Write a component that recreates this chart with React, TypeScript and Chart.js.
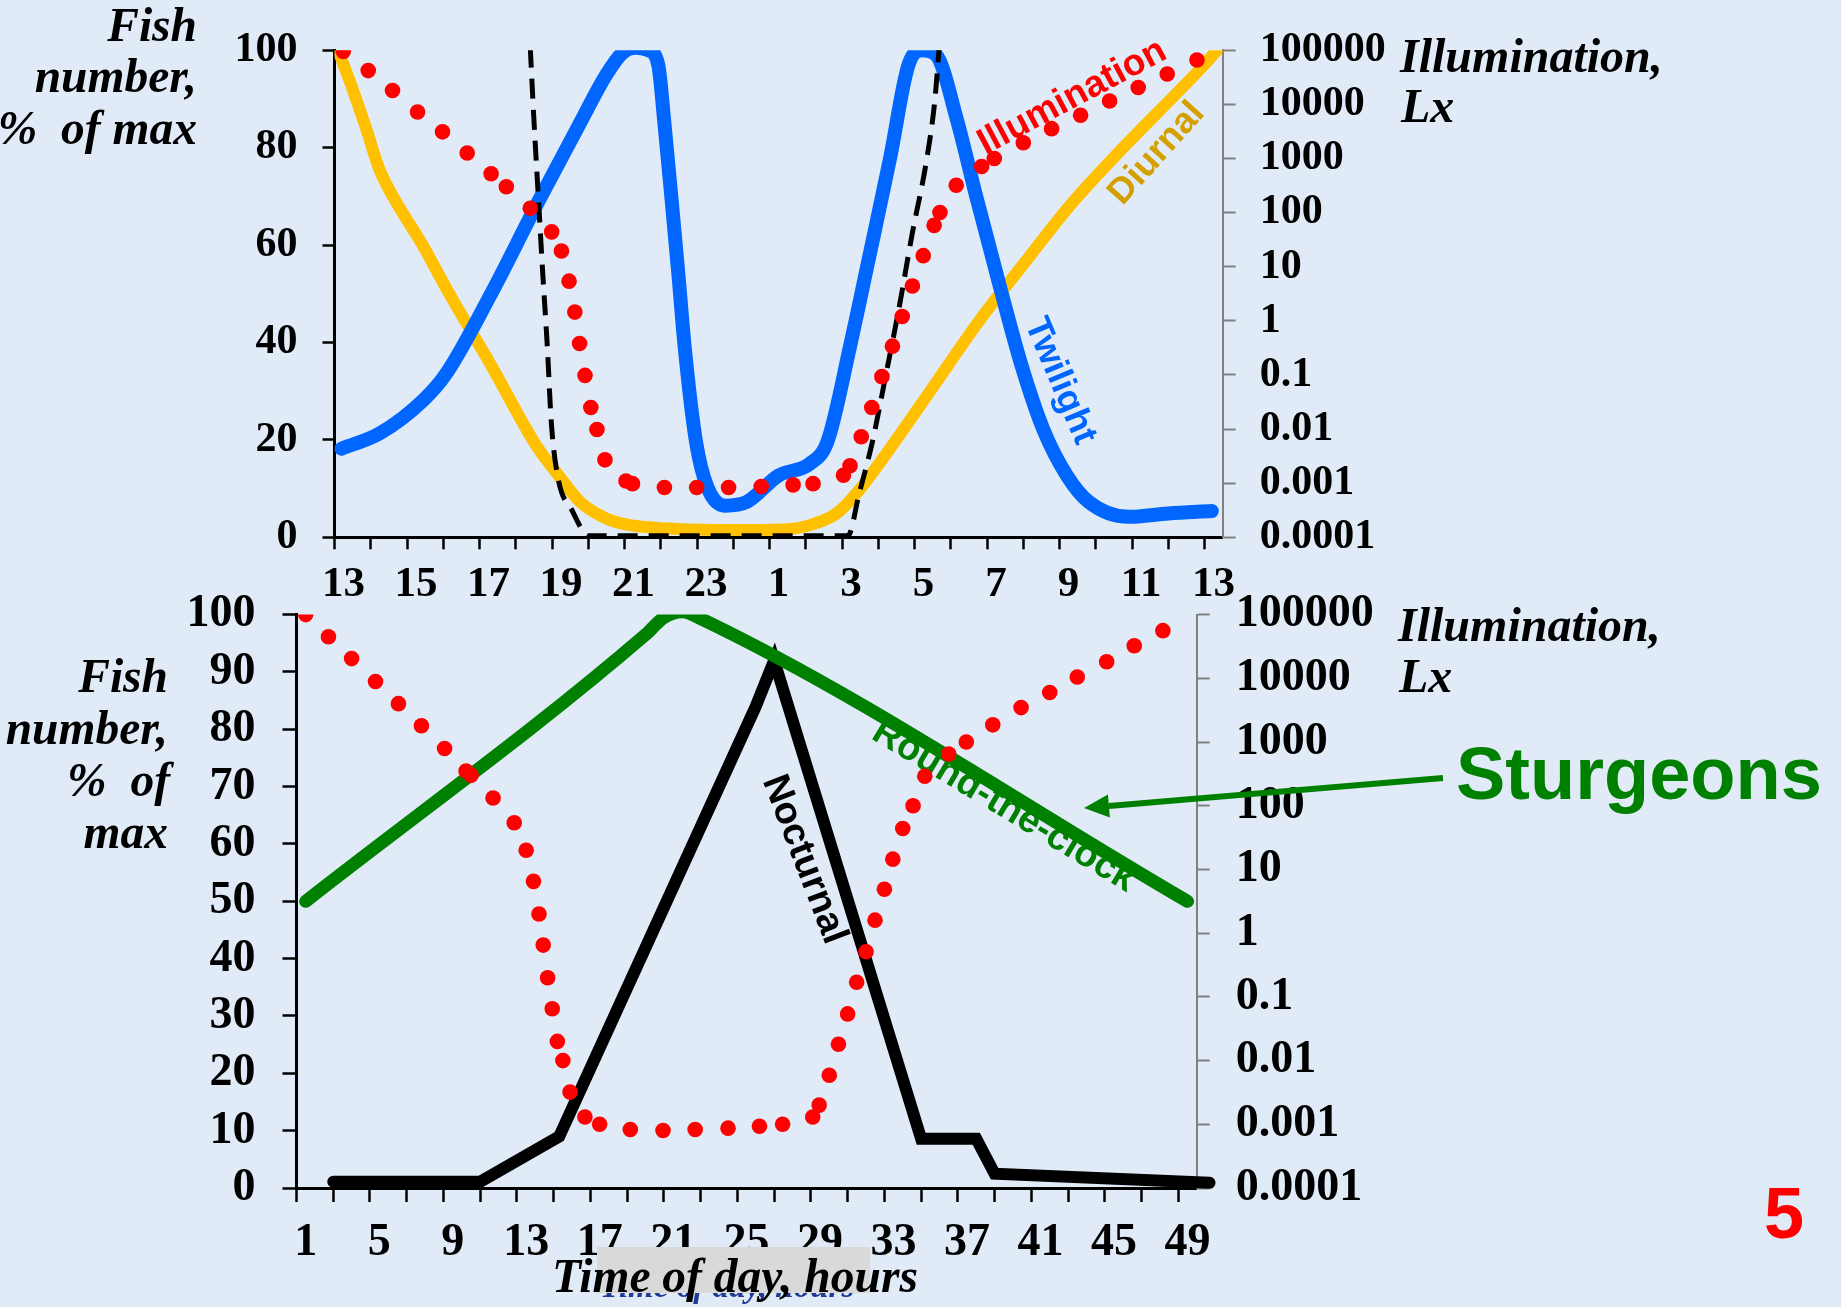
import { useEffect, useRef } from 'react';
import { Chart, registerables } from 'chart.js';

Chart.register(...registerables);

// ---------------- Top panel (x = hours after 13:00) ----------------
const TOP_X_LABELS = ['13', '15', '17', '19', '21', '23', '1', '3', '5', '7', '9', '11', '13'];
const TOP_TICK_HOURS = [0, 1, 2, 3, 4, 5, 6, 7, 8, 9, 10, 11, 12, 13, 14, 15, 16, 17, 18, 19, 20, 21, 22, 23, 24];

const TOP_DIURNAL_X = [0.1, 0.5, 0.87, 1.24, 1.61, 2.47, 3.09, 4.32, 5.55, 6.17, 6.77, 7.4, 8.0, 9.2, 11.0, 12.4, 13.2, 13.85, 14.46, 15.32, 16.56, 17.8, 19.03, 20.26, 21.5, 22.72, 23.95, 24.4];
const TOP_DIURNAL_Y = [100, 92, 84, 75.5, 70, 59.5, 51, 35.3, 19, 12.8, 7.3, 4.2, 2.7, 1.8, 1.5, 1.6, 2.7, 4.9, 9.6, 18.2, 31.4, 44.6, 56.3, 67.9, 78, 87.3, 96.7, 100.5];

const TOP_TWILIGHT_X = [0.19, 1.24, 2.47, 3.09, 4.32, 5.55, 6.77, 7.5, 7.95, 8.3, 8.65, 8.93, 9.1, 9.29, 9.48, 9.66, 9.97, 10.28, 10.77, 11.38, 12.25, 13.11, 13.6, 14.22, 14.71, 15.33, 15.82, 16.2, 16.6, 17.17, 17.7, 18.35, 18.95, 19.56, 20.2, 20.8, 21.9, 23.0, 24.2];
const TOP_TWILIGHT_Y = [18.2, 21.3, 28.3, 33.7, 50, 67.9, 85, 95, 99.5, 100.5, 100, 97, 85, 70, 54.5, 39, 19.7, 10.4, 6.5, 7.3, 12.7, 15.1, 19.7, 39.2, 56.2, 78, 96.7, 100, 99, 85.7, 70, 51.6, 35.3, 22, 12.7, 7.3, 4.2, 4.9, 5.4];

const TOP_DASHED_X = [5.4, 5.5, 5.62, 5.74, 5.87, 5.98, 6.17, 6.54, 7.02, 14.16, 14.47, 14.84, 15.2, 15.57, 15.94, 16.31, 16.56, 16.68];
const TOP_DASHED_Y = [100.5, 85.8, 70.2, 54.7, 39.2, 23.6, 12, 5.7, 0.3, 0.3, 8.9, 19.7, 33, 47, 62.5, 76.5, 89.7, 100.6];

const TOP_ILLUM_X = [0.24, 0.93, 1.6, 2.29, 2.98, 3.66, 4.32, 4.74, 5.4, 5.99, 6.26, 6.47, 6.63, 6.76, 6.91, 7.07, 7.24, 7.46, 8.04, 8.22, 9.1, 9.99, 10.87, 11.77, 12.65, 13.2, 14.04, 14.22, 14.53, 14.82, 15.1, 15.39, 15.66, 15.94, 16.24, 16.54, 16.7, 17.15, 17.85, 18.2, 19.0, 19.78, 20.58, 21.38, 22.17, 22.97, 23.79];
const TOP_ILLUM_LUX = [95000, 42000, 18000, 7200, 3100, 1260, 520, 300, 120, 44, 19.5, 5.4, 1.45, 0.38, 0.098, 0.025, 0.0098, 0.0027, 0.0011, 0.00098, 0.00083, 0.00083, 0.00083, 0.00087, 0.00093, 0.00098, 0.0014, 0.0021, 0.0072, 0.025, 0.093, 0.34, 1.2, 4.4, 16, 58, 100, 320, 710, 1000, 1950, 3550, 6300, 11500, 20400, 36300, 66000];

// ---------------- Bottom panel (x = hour index 1..49) ----------------
const BOTTOM_X_LABELS = ['1', '5', '9', '13', '17', '21', '25', '29', '33', '37', '41', '45', '49'];
const BOTTOM_TICKS = [0.5, 2.5, 4.5, 6.5, 8.5, 10.5, 12.5, 14.5, 16.5, 18.5, 20.5, 22.5, 24.5, 26.5, 28.5, 30.5, 32.5, 34.5, 36.5, 38.5, 40.5, 42.5, 44.5, 46.5, 48.5];

const BOT_ROUND_X = [1, 19.5, 20.5, 21.5, 22.5, 49];
const BOT_ROUND_Y = [50, 96.5, 99.5, 100.5, 99.3, 50];

const BOT_NOCT_X = [2.5, 10.5, 14.8, 25.5, 26.5, 34.5, 37.5, 38.5, 50.2];
const BOT_NOCT_Y = [1.1, 1.1, 9, 84, 92, 8.6, 8.6, 2.5, 0.9];

const BOT_ILLUM_X = [1, 2.24, 3.5, 4.8, 6.05, 7.3, 8.56, 9.73, 10.0, 11.2, 12.35, 13.0, 13.4, 13.7, 13.93, 14.17, 14.42, 14.7, 15.0, 15.39, 16.2, 17.0, 18.67, 20.45, 22.2, 23.99, 25.7, 26.96, 28.6, 28.95, 29.5, 30.0, 30.5, 30.99, 31.5, 31.99, 32.5, 32.96, 33.5, 34.06, 34.7, 36.0, 36.96, 38.4, 39.94, 41.5, 43.0, 44.6, 46.1, 47.66];
const BOT_ILLUM_LUX = [100000, 45000, 20400, 8900, 4000, 1800, 790, 350, 300, 132, 54, 20, 6.5, 2.0, 0.65, 0.2, 0.065, 0.02, 0.01, 0.0032, 0.0013, 0.001, 0.00083, 0.0008, 0.00083, 0.00087, 0.00093, 0.001, 0.0013, 0.002, 0.0059, 0.018, 0.054, 0.17, 0.51, 1.6, 4.9, 14.5, 44, 100, 290, 650, 1000, 1860, 3470, 6000, 10500, 18200, 32400, 56000];

const LUX_TICKS = [0.0001, 0.001, 0.01, 0.1, 1, 10, 100, 1000, 10000, 100000];
const LUX_LABELS = ['0.0001', '0.001', '0.01', '0.1', '1', '10', '100', '1000', '10000', '100000'];

// ---------------- styling ----------------
const W = 1841;
const H = 1307;
const BG = '#E0EBF7';
const RED = '#FF0000';
const YELLOW = '#FFC000';
const BLUE = '#0066FF';
const GREEN = '#008000';
const GRAY = '#808080';
const SERIF = '"Liberation Serif", "Times New Roman", serif';
const SANS = '"Liberation Sans", Arial, sans-serif';

const TOP_CANVAS_H = 625;
const BOT_CANVAS_TOP = 560;
const BOT_CANVAS_H = 747;

type Note = { text: string; x: number; y: number; angle: number; color: string; size: number };

const TOP_NOTES: Note[] = [
  { text: 'Illumination', x: 20.35, y: 90.3, angle: -28, color: RED, size: 37 },
  { text: 'Diurnal', x: 22.68, y: 78.8, angle: -48, color: '#D4A000', size: 36 },
  { text: 'Twilight', x: 20.01, y: 32.1, angle: 67, color: BLUE, size: 36 },
];
const BOT_NOTES: Note[] = [
  { text: 'Nocturnal', x: 28.13, y: 57.3, angle: 69, color: '#000000', size: 38 },
  { text: 'Round-the-clock', x: 39.0, y: 66.6, angle: 31, color: GREEN, size: 38 },
];

function pts(xs: number[], ys: number[]) {
  return xs.map((x, i) => ({ x, y: ys[i] }));
}

function notesPlugin(notes: Note[]) {
  return {
    id: 'notes',
    beforeDatasetsDraw(chart: any) {
      const ctx = chart.ctx;
      const xs = chart.scales.x;
      const ys = chart.scales.y;
      notes.forEach((n) => {
        ctx.save();
        ctx.translate(xs.getPixelForValue(n.x), ys.getPixelForValue(n.y));
        ctx.rotate((n.angle * Math.PI) / 180);
        ctx.font = `bold ${n.size}px ${SANS}`;
        ctx.fillStyle = n.color;
        ctx.textAlign = 'center';
        ctx.textBaseline = 'middle';
        ctx.fillText(n.text, 0, 0);
        ctx.restore();
      });
    },
  };
}

function topConfig(): any {
  const tickFont = { family: SERIF, size: 42, weight: 'bold' as const };
  return {
    type: 'line',
    data: {
      datasets: [
        {
          label: 'Illumination',
          data: pts(TOP_ILLUM_X, TOP_ILLUM_LUX),
          yAxisID: 'yLux',
          showLine: false,
          pointRadius: 7.8,
          pointBorderWidth: 0,
          pointBackgroundColor: RED,
          borderColor: RED,
          backgroundColor: RED,
        },
        {
          label: 'Dashed',
          data: pts(TOP_DASHED_X, TOP_DASHED_Y),
          yAxisID: 'y',
          borderColor: '#000000',
          borderWidth: 5,
          borderDash: [20, 11],
          pointRadius: 0,
          cubicInterpolationMode: 'monotone',
        },
        {
          label: 'Twilight',
          data: pts(TOP_TWILIGHT_X, TOP_TWILIGHT_Y),
          yAxisID: 'y',
          borderColor: BLUE,
          borderWidth: 14,
          borderCapStyle: 'round',
          borderJoinStyle: 'round',
          pointRadius: 0,
          cubicInterpolationMode: 'monotone',
        },
        {
          label: 'Diurnal',
          data: pts(TOP_DIURNAL_X, TOP_DIURNAL_Y),
          yAxisID: 'y',
          borderColor: YELLOW,
          borderWidth: 12,
          borderCapStyle: 'round',
          borderJoinStyle: 'round',
          pointRadius: 0,
          cubicInterpolationMode: 'monotone',
        },
      ],
    },
    options: {
      responsive: false,
      animation: false,
      events: [],
      layout: { padding: { top: 44.8, left: 0, right: 0, bottom: 0 } },
      plugins: { legend: { display: false }, tooltip: { enabled: false } },
      scales: {
        x: {
          type: 'linear',
          position: 'bottom',
          min: 0,
          max: 24.5,
          afterBuildTicks: (s: any) => {
            s.ticks = TOP_TICK_HOURS.map((v) => ({ value: v }));
          },
          afterFit: (s: any) => {
            s.height = TOP_CANVAS_H - 537.3;
          },
          ticks: {
            autoSkip: false,
            maxRotation: 0,
            minRotation: 0,
            labelOffset: 9,
            padding: 9.5,
            color: '#000',
            font: { family: SERIF, size: 43, weight: 'bold' },
            callback: (_v: any, i: number) => (i % 2 === 0 ? TOP_X_LABELS[i / 2] : ''),
          },
          grid: { drawOnChartArea: false, drawTicks: true, tickLength: 12, tickColor: '#000', tickWidth: 2.5 },
          border: { display: true, color: '#000', width: 3 },
        },
        y: {
          position: 'left',
          min: 0,
          max: 100,
          afterFit: (s: any) => {
            s.width = 334.5;
          },
          ticks: { stepSize: 20, autoSkip: false, padding: 25, color: '#000', font: tickFont },
          grid: { drawOnChartArea: false, drawTicks: true, tickLength: 12, tickColor: '#000', tickWidth: 2.5 },
          border: { display: true, color: '#000', width: 3 },
        },
        yLux: {
          type: 'logarithmic',
          position: 'right',
          min: 0.0001,
          max: 100000,
          afterBuildTicks: (s: any) => {
            s.ticks = LUX_TICKS.map((v) => ({ value: v }));
          },
          afterFit: (s: any) => {
            s.width = W - 1222.7;
          },
          ticks: {
            padding: 24,
            color: '#000',
            font: tickFont,
            autoSkip: false,
            callback: (_v: any, i: number) => LUX_LABELS[i],
          },
          grid: { drawOnChartArea: false, drawTicks: true, tickLength: 13, tickColor: GRAY, tickWidth: 2 },
          border: { display: true, color: GRAY, width: 2 },
        },
      },
    },
    plugins: [notesPlugin(TOP_NOTES)],
  };
}

function bottomConfig(): any {
  const tickFont = { family: SERIF, size: 46, weight: 'bold' as const };
  return {
    type: 'line',
    data: {
      datasets: [
        {
          label: 'Illumination',
          data: pts(BOT_ILLUM_X, BOT_ILLUM_LUX),
          yAxisID: 'yLux',
          showLine: false,
          pointRadius: 7.8,
          pointBorderWidth: 0,
          pointBackgroundColor: RED,
          borderColor: RED,
          backgroundColor: RED,
        },
        {
          label: 'Round-the-clock',
          data: pts(BOT_ROUND_X, BOT_ROUND_Y),
          yAxisID: 'y',
          borderColor: GREEN,
          borderWidth: 13,
          borderCapStyle: 'round',
          borderJoinStyle: 'round',
          pointRadius: 0,
          cubicInterpolationMode: 'monotone',
        },
        {
          label: 'Nocturnal',
          data: pts(BOT_NOCT_X, BOT_NOCT_Y),
          yAxisID: 'y',
          borderColor: '#000000',
          borderWidth: 12,
          borderCapStyle: 'round',
          borderJoinStyle: 'miter',
          pointRadius: 0,
          clip: { left: 0, top: 0, right: 40, bottom: 10 },
        },
      ],
    },
    options: {
      responsive: false,
      animation: false,
      events: [],
      layout: { padding: { top: 612.5 - BOT_CANVAS_TOP, left: 0, right: 0, bottom: 0 } },
      plugins: { legend: { display: false }, tooltip: { enabled: false } },
      scales: {
        x: {
          type: 'linear',
          position: 'bottom',
          min: 0.5,
          max: 49.5,
          afterBuildTicks: (s: any) => {
            s.ticks = BOTTOM_TICKS.map((v) => ({ value: v }));
          },
          afterFit: (s: any) => {
            s.height = BOT_CANVAS_H - (1188 - BOT_CANVAS_TOP);
          },
          ticks: {
            autoSkip: false,
            maxRotation: 0,
            minRotation: 0,
            labelOffset: 9.2,
            padding: 13.4,
            color: '#000',
            font: tickFont,
            callback: (_v: any, i: number) => (i % 2 === 0 ? BOTTOM_X_LABELS[i / 2] : ''),
          },
          grid: { drawOnChartArea: false, drawTicks: true, tickLength: 14, tickColor: '#000', tickWidth: 2.5 },
          border: { display: true, color: '#000', width: 3 },
        },
        y: {
          position: 'left',
          min: 0,
          max: 100,
          afterFit: (s: any) => {
            s.width = 296.5;
          },
          ticks: { stepSize: 10, autoSkip: false, padding: 27, color: '#000', font: tickFont },
          grid: { drawOnChartArea: false, drawTicks: true, tickLength: 14, tickColor: '#000', tickWidth: 2.5 },
          border: { display: true, color: '#000', width: 3 },
        },
        yLux: {
          type: 'logarithmic',
          position: 'right',
          min: 0.0001,
          max: 100000,
          afterBuildTicks: (s: any) => {
            s.ticks = LUX_TICKS.map((v) => ({ value: v }));
          },
          afterFit: (s: any) => {
            s.width = W - 1196.7;
          },
          ticks: {
            padding: 26,
            color: '#000',
            font: tickFont,
            autoSkip: false,
            callback: (_v: any, i: number) => LUX_LABELS[i],
          },
          grid: { drawOnChartArea: false, drawTicks: true, tickLength: 13, tickColor: GRAY, tickWidth: 2 },
          border: { display: true, color: GRAY, width: 2 },
        },
      },
    },
    plugins: [notesPlugin(BOT_NOTES)],
  };
}

// arrow from the "Sturgeons" label to the round-the-clock curve
const ARROW_START = [1443, 778];
const ARROW_TIP = [1084, 808];
const ARROW_HEAD_LEN = 25;
const ARROW_HEAD_HALF = 11.5;

export default function App() {
  const topRef = useRef<HTMLCanvasElement>(null);
  const botRef = useRef<HTMLCanvasElement>(null);

  useEffect(() => {
    const top = new Chart(topRef.current as HTMLCanvasElement, topConfig());
    const bot = new Chart(botRef.current as HTMLCanvasElement, bottomConfig());
    return () => {
      top.destroy();
      bot.destroy();
    };
  }, []);

  const dx = ARROW_TIP[0] - ARROW_START[0];
  const dy = ARROW_TIP[1] - ARROW_START[1];
  const len = Math.hypot(dx, dy);
  const ux = dx / len;
  const uy = dy / len;
  const bx = ARROW_TIP[0] - ux * ARROW_HEAD_LEN;
  const by = ARROW_TIP[1] - uy * ARROW_HEAD_LEN;
  const px = -uy;
  const py = ux;
  const head = `${ARROW_TIP[0]},${ARROW_TIP[1]} ${bx + px * ARROW_HEAD_HALF},${by + py * ARROW_HEAD_HALF} ${bx - px * ARROW_HEAD_HALF},${by - py * ARROW_HEAD_HALF}`;

  const titleStyle = { fontFamily: SERIF, fontWeight: 700, fontStyle: 'italic', whiteSpace: 'pre' as const };

  return (
    <div style={{ position: 'fixed', left: 0, top: 0, width: W, height: H, background: BG, overflow: 'hidden' }}>
      <canvas ref={topRef} width={W} height={TOP_CANVAS_H} style={{ position: 'absolute', left: 0, top: 0 }} />
      <canvas ref={botRef} width={W} height={BOT_CANVAS_H} style={{ position: 'absolute', left: 0, top: BOT_CANVAS_TOP }} />
      <svg width={W} height={H} style={{ position: 'absolute', left: 0, top: 0, pointerEvents: 'none' }} xmlSpace="preserve">
        {/* top panel titles */}
        <g style={titleStyle} fontSize={47.5} fill="#000" textAnchor="end">
          <text x={197} y={40.5}>Fish</text>
          <text x={197} y={92}>number,</text>
          <text x={197} y={143.5}>{'%\u00A0\u00A0of max'}</text>
        </g>
        <g style={titleStyle} fontSize={48} fill="#000">
          <text x={1400} y={71.7}>Illumination,</text>
          <text x={1401} y={121.7}>Lx</text>
        </g>
        {/* bottom panel titles */}
        <g style={titleStyle} fontSize={47.5} fill="#000" textAnchor="end">
          <text x={168} y={691.5}>Fish</text>
          <text x={168} y={744}>number,</text>
          <text x={170} y={795.5}>{'%\u00A0\u00A0of'}</text>
          <text x={168} y={847.5}>max</text>
        </g>
        <g style={titleStyle} fontSize={48} fill="#000">
          <text x={1398} y={641}>Illumination,</text>
          <text x={1399} y={692}>Lx</text>
        </g>
        {/* x axis title with the grey patch */}
        <text x={600} y={1297} style={titleStyle} fontSize={33} fill="#1F3A93">Time of day, hours</text>
        <rect x={597} y={1247} width={273} height={46} fill="#D9D9D9" />
        <text x={552} y={1292} style={titleStyle} fontSize={47.5} fill="#000">Time of day, hours</text>
        {/* Sturgeons annotation */}
        <line x1={ARROW_START[0]} y1={ARROW_START[1]} x2={bx} y2={by} stroke={GREEN} strokeWidth={6} />
        <polygon points={head} fill={GREEN} />
        <text x={1456} y={799} fontFamily={SANS} fontWeight={700} fontSize={74} fill={GREEN}>Sturgeons</text>
        <text x={1764} y={1238} fontFamily={SANS} fontWeight={700} fontSize={72} fill={RED}>5</text>
      </svg>
    </div>
  );
}
